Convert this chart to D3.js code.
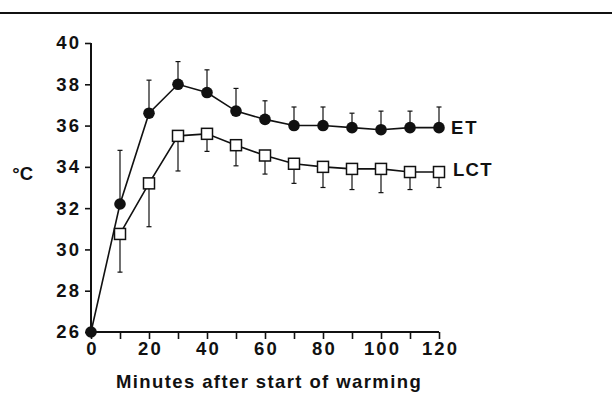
<!DOCTYPE html>
<html><head><meta charset="utf-8">
<script src="https://cdn.jsdelivr.net/npm/d3@7"></script>
<style>body{margin:0;background:#fff}svg{display:block}text{font-family:"Liberation Sans",Arial,sans-serif;font-weight:bold;fill:#111}</style>
</head><body>
<svg id="c" width="612" height="394"></svg>
<script>
const etMinutes = [0,10,20,30,40,50,60,70,80,90,100,110,120];
const etMean    = [26,32.2,36.6,38.0,37.6,36.7,36.3,36.0,36.0,35.9,35.8,35.9,35.9];
const etUpper   = [null,34.8,38.2,39.1,38.7,37.8,37.2,36.9,36.9,36.6,36.7,36.7,36.9];
const lctMinutes= [10,20,30,40,50,60,70,80,90,100,110,120];
const lctMean   = [30.75,33.2,35.5,35.6,35.05,34.55,34.15,34.0,33.9,33.9,33.75,33.75];
const lctLower  = [28.9,31.1,33.8,34.75,34.05,33.65,33.2,33.0,32.9,32.75,32.9,33.0];
const yTicks = [26,28,30,32,34,36,38,40];
const xTicks = [0,10,20,30,40,50,60,70,80,90,100,110,120];
const xLabels = [0,20,40,60,80,100,120];

const svg = d3.select("#c");
const x = d3.scaleLinear().domain([0,120]).range([91,439]);
const y = d3.scaleLinear().domain([26,40]).range([332,43]);

// top rule
svg.append("line").attr("x1",0).attr("x2",612).attr("y1",13).attr("y2",13)
  .attr("stroke","#111").attr("stroke-width",2);

// axes
const yAx = svg.append("g").attr("transform","translate(91,0)")
  .call(d3.axisLeft(y).tickValues(yTicks).tickSize(6).tickPadding(6).tickFormat(d3.format("d")));
const xAx = svg.append("g").attr("transform","translate(0,332)")
  .call(d3.axisBottom(x).tickValues(xTicks).tickSize(7).tickPadding(3)
    .tickFormat(d => xLabels.includes(d) ? d : ""));
[yAx,xAx].forEach(g=>{
  g.select(".domain").attr("stroke","#111").attr("stroke-width",2);
  g.selectAll(".tick line").attr("stroke","#111").attr("stroke-width",1.6);
  g.selectAll(".tick text").style("font-size","18.5px").style("letter-spacing","2.2px")
    .style("font-family","Liberation Sans, Arial, sans-serif").style("font-weight","bold").attr("fill","#111");
});
yAx.selectAll(".tick text").attr("dx","2.2px");
xAx.selectAll(".tick text").attr("dx","1.1px");
xAx.select(".domain").attr("d","M91,0H439");
yAx.select(".domain").attr("d","M0,332V43");

// labels
svg.append("text").attr("x",33).attr("y",180).attr("text-anchor","end").style("font-size","18.5px").text("°C");
svg.append("text").attr("x",269).attr("y",388).attr("text-anchor","middle")
  .style("font-size","18.5px").style("letter-spacing","1.4px").text("Minutes after start of warming");

// error bars
const etData = etMinutes.map((m,i)=>({m,v:etMean[i],u:etUpper[i]}));
const lctData = lctMinutes.map((m,i)=>({m,v:lctMean[i],l:lctLower[i]}));
const eb = svg.append("g").attr("stroke","#111").attr("stroke-width",1.2);
etData.filter(d=>d.u!=null).forEach(d=>{
  eb.append("line").attr("x1",x(d.m)).attr("x2",x(d.m)).attr("y1",y(d.v)).attr("y2",y(d.u));
  eb.append("line").attr("x1",x(d.m)-2.5).attr("x2",x(d.m)+2.5).attr("y1",y(d.u)).attr("y2",y(d.u));
});
lctData.forEach(d=>{
  eb.append("line").attr("x1",x(d.m)).attr("x2",x(d.m)).attr("y1",y(d.v)).attr("y2",y(d.l));
  eb.append("line").attr("x1",x(d.m)-2.5).attr("x2",x(d.m)+2.5).attr("y1",y(d.l)).attr("y2",y(d.l));
});

// lines
const line = d3.line().x(d=>x(d.m)).y(d=>y(d.v));
svg.append("path").datum(etData).attr("d",line).attr("fill","none").attr("stroke","#111").attr("stroke-width",1.6);
svg.append("path").datum(lctData).attr("d",line).attr("fill","none").attr("stroke","#111").attr("stroke-width",1.6);

// markers
svg.append("g").selectAll("rect").data(lctData).join("rect")
  .attr("x",d=>x(d.m)-5.5).attr("y",d=>y(d.v)-5.5).attr("width",11).attr("height",11)
  .attr("fill","#fff").attr("stroke","#111").attr("stroke-width",1.5);
svg.append("g").selectAll("circle").data(etData).join("circle")
  .attr("cx",d=>x(d.m)).attr("cy",d=>y(d.v)).attr("r",5.8).attr("fill","#111");

svg.append("text").attr("x",451).attr("y",134).style("font-size","18.5px").style("letter-spacing","2px").text("ET");
svg.append("text").attr("x",453).attr("y",176).style("font-size","18.5px").style("letter-spacing","1.3px").text("LCT");
</script>
</body></html>
